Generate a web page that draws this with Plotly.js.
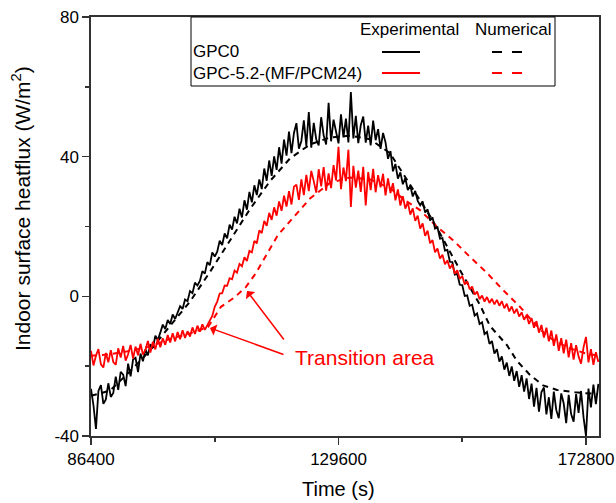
<!DOCTYPE html>
<html><head><meta charset="utf-8">
<script src="https://cdn.plot.ly/plotly-3.0.1.min.js"></script>
<style>body{margin:0;background:#fff}#chart{width:616px;height:503px}</style>
</head><body><div id="chart"></div>
<script>
// Experimental records: one sample every 432 s starting at 86400 s
const expStart = 86400;
const expStep = 432;
const gpc0Exp = [
-26.5,-31.2,-38.0,-27.1,-25.4,-30.8,-29.5,-24.9,-28.8,-27.7,
-23.0,-26.8,-21.6,-22.4,-25.7,-19.3,-22.9,-18.1,-17.6,-21.7,
-16.4,-18.6,-15.2,-16.9,-13.7,-14.8,-11.3,-12.5,-10.4,-8.1,
-9.4,-6.8,-7.9,-5.2,-6.5,-4.9,-2.8,-3.6,-0.9,-1.4,
1.5,0.9,3.9,3.1,4.4,7.2,6.5,9.8,8.9,12.6,
11.4,12.8,15.9,14.7,18.0,16.6,20.5,19.1,22.8,20.9,
25.1,22.6,27.5,24.8,29.9,26.9,31.8,29.0,33.5,30.7,
36.6,33.1,38.9,34.5,40.1,36.2,42.7,38.0,44.9,40.3,
47.2,41.0,46.8,49.6,42.3,44.5,50.4,43.1,52.8,42.6,
49.7,45.0,43.2,51.3,46.1,43.5,55.4,44.4,50.6,47.2,
43.8,52.1,45.5,50.9,44.1,58.5,45.2,51.7,43.9,49.0,
51.5,44.0,48.9,43.2,50.3,44.7,47.9,42.2,46.8,44.1,
39.4,41.6,35.8,37.9,33.7,35.5,32.1,33.9,30.4,31.7,
28.6,30.2,27.3,26.1,27.2,24.0,24.9,21.7,22.6,19.4,
19.8,16.5,16.7,13.1,13.3,9.9,9.8,6.2,6.4,3.3,
3.2,0.1,0.3,-2.7,-2.4,-5.5,-4.9,-7.9,-7.4,-10.8,
-10.2,-13.6,-12.8,-16.4,-15.1,-18.7,-17.2,-21.0,-19.0,-22.8,
-20.1,-24.2,-21.4,-25.9,-22.6,-27.3,-23.5,-29.4,-25.0,-31.6,
-26.2,-33.0,-27.4,-26.1,-33.8,-28.9,-35.1,-27.3,-32.6,-34.9,
-27.8,-30.7,-36.3,-28.2,-33.7,-35.9,-28.0,-33.4,-27.1,-34.6,
-40.0,-26.4,-31.8,-25.3,-30.9,-25.1
];
const pcmExp = [
-15.6,-19.8,-17.0,-15.1,-19.5,-20.4,-16.2,-18.9,-15.4,-18.8,
-19.6,-14.9,-17.5,-14.2,-18.4,-16.6,-13.9,-17.8,-14.4,-16.9,
-13.6,-16.7,-15.3,-12.8,-16.1,-13.0,-15.2,-12.1,-14.6,-12.0,
-13.9,-11.1,-13.2,-10.6,-12.9,-10.2,-12.3,-9.7,-11.9,-10.0,
-11.5,-8.9,-10.8,-8.4,-10.1,-8.0,-9.6,-8.1,-6.8,-5.6,
-3.0,-1.5,0.8,0.9,3.1,3.0,5.2,4.9,7.4,6.8,
9.3,8.6,11.2,10.1,13.0,12.6,15.9,15.2,18.9,18.1,
21.6,20.2,23.9,21.9,25.5,23.1,27.2,24.5,28.8,25.7,
30.1,26.3,31.4,32.0,27.6,33.5,29.0,34.8,30.1,35.9,
33.0,29.7,36.4,31.5,37.0,30.3,35.2,31.0,37.6,33.2,
42.8,30.7,36.9,33.0,42.0,25.6,37.4,31.1,36.0,29.9,
37.1,26.0,35.6,30.4,36.5,29.8,34.7,31.2,35.1,28.9,
33.8,29.6,32.4,27.5,30.6,26.0,28.7,25.1,27.0,23.4,
25.2,21.6,23.1,19.4,20.9,17.3,18.8,15.2,16.1,12.6,
13.7,10.8,11.9,9.2,10.3,8.0,9.1,6.5,7.5,5.0,
5.8,3.4,4.3,2.0,2.8,0.5,1.4,-0.8,0.2,-1.5,
-0.2,-1.9,-0.7,-2.3,-1.0,-2.7,-1.4,-3.4,-2.1,-4.3,
-2.9,-4.9,-3.6,-5.8,-4.6,-6.7,-5.4,-7.9,-6.2,-9.0,
-7.1,-10.4,-8.2,-11.8,-9.0,-12.9,-9.8,-14.2,-10.9,-15.6,
-12.0,-16.3,-12.4,-17.5,-13.4,-18.1,-14.0,-17.2,-19.3,-14.6,
-11.6,-18.9,-15.1,-19.6,-16.0,-18.8
];
// Numerical results
const gpc0NumTime = [86400,89716,93207,96698,100189,103680,107171,110662,114153,117644,121135,124626,128117,131608,135099,138590,142080,145572,147318,150809,154300,156045,159013,160758,163027,165297,167740,170882,174897];
const gpc0Num = [-28.5,-27.0,-21.5,-15.5,-8.5,-1.5,7.0,16.0,25.0,33.0,39.5,43.5,45.5,46.0,45.0,41.0,32.0,23.0,18.0,7.5,-2.5,-8.5,-14.0,-18.5,-22.5,-25.5,-26.8,-27.5,-28.0];
const pcmNumTime = [86400,89716,93207,96698,100189,103680,106822,109092,111535,113455,115201,116423,119041,121659,124626,128117,131608,135099,138590,141209,143827,146794,149587,152554,155522,158315,161282,163552,165995,169486,172628,174897];
const pcmNum = [-17.0,-16.6,-15.6,-14.4,-12.2,-10.6,-8.8,-3.0,-0.2,2.7,6.7,10.3,17.6,22.5,28.0,32.5,34.0,33.5,31.0,27.5,24.7,19.9,16.1,11.3,6.7,1.8,-3.0,-7.3,-11.4,-14.6,-16.3,-17.0];

const xTicks = [86400, 129600, 172800];
const xMinorTicks = [108000, 151200];
const yTicks = [-40, 0, 40, 80];
const yMinorTicks = [-20, 20, 60];
const seriesNames = ['GPC0', 'GPC-5.2-(MF/PCM24)'];
const columnNames = ['Experimental', 'Numerical'];
const noteText = 'Transition area';
const notePos = {x: 134227, y: -17.4};
const arrowHeads = [{x: 107171, y: -9.07, ax: 75, ay: 27}, {x: 113630, y: 1.53, ax: 38, ay: 50}];

const expTime = gpc0Exp.map((_, i) => expStart + i * expStep);
const FONT = 'Arial, "Liberation Sans", sans-serif';
const RED = '#ff0000';

const traces = [
  {x: gpc0NumTime, y: gpc0Num, mode: 'lines', line: {color: '#000', width: 2, dash: '6px,5px'}, name: seriesNames[0] + ' num'},
  {x: pcmNumTime, y: pcmNum, mode: 'lines', line: {color: RED, width: 2, dash: '6px,5px'}, name: seriesNames[1] + ' num'},
  {x: expTime, y: gpc0Exp, mode: 'lines', line: {color: '#000', width: 1.8}, name: seriesNames[0]},
  {x: expTime, y: pcmExp, mode: 'lines', line: {color: RED, width: 1.8}, name: seriesNames[1]}
];

// pixel helpers for legend layout (paper coordinates)
const L = 91, R = 599, T = 17, B = 436;
const px = v => (v - L) / (R - L);
const py = v => (B - v) / (B - T);

const shapes = [
  {type: 'rect', xref: 'paper', yref: 'paper', x0: px(191), x1: px(555), y0: py(86), y1: py(17), line: {color: '#000', width: 1}, fillcolor: 'rgba(0,0,0,0)'},
  {type: 'line', xref: 'paper', yref: 'paper', x0: px(382), x1: px(420), y0: py(52), y1: py(52), line: {color: '#000', width: 2}},
  {type: 'line', xref: 'paper', yref: 'paper', x0: px(382), x1: px(420), y0: py(73), y1: py(73), line: {color: RED, width: 2}},
  {type: 'line', xref: 'paper', yref: 'paper', x0: px(492), x1: px(522), y0: py(52), y1: py(52), line: {color: '#000', width: 2, dash: '10px,10px'}},
  {type: 'line', xref: 'paper', yref: 'paper', x0: px(492), x1: px(522), y0: py(73), y1: py(73), line: {color: RED, width: 2, dash: '10px,10px'}}
];

const annotations = [
  {xref: 'paper', yref: 'paper', x: px(409), y: py(30), text: columnNames[0], showarrow: false, xanchor: 'center', yanchor: 'middle', font: {family: FONT, size: 17, color: '#000'}},
  {xref: 'paper', yref: 'paper', x: px(513), y: py(30), text: columnNames[1], showarrow: false, xanchor: 'center', yanchor: 'middle', font: {family: FONT, size: 17, color: '#000'}},
  {xref: 'paper', yref: 'paper', x: px(191), y: py(52), text: seriesNames[0], showarrow: false, xanchor: 'left', yanchor: 'middle', font: {family: FONT, size: 17, color: '#000'}},
  {xref: 'paper', yref: 'paper', x: px(191), y: py(73), text: seriesNames[1], showarrow: false, xanchor: 'left', yanchor: 'middle', font: {family: FONT, size: 17, color: '#000'}},
  {xref: 'x', yref: 'y', x: notePos.x, y: notePos.y, text: noteText, showarrow: false, xanchor: 'center', yanchor: 'middle', font: {family: FONT, size: 21, color: RED}},
  {xref: 'paper', yref: 'paper', x: px(338), y: py(489), text: 'Time (s)', showarrow: false, xanchor: 'center', yanchor: 'middle', font: {family: FONT, size: 20, color: '#000'}},
  {xref: 'paper', yref: 'paper', x: px(21), y: py(209), text: 'Indoor surface heatflux (W/m<sup>2</sup>)', textangle: -90, showarrow: false, xanchor: 'center', yanchor: 'middle', font: {family: FONT, size: 21, color: '#000'}}
];
arrowHeads.forEach(a => annotations.push({
  xref: 'x', yref: 'y', x: a.x, y: a.y, ax: a.ax, ay: a.ay, text: '', showarrow: true,
  arrowhead: 1, arrowsize: 1.3, arrowwidth: 1.5, arrowcolor: RED, standoff: 0
}));

const axisCommon = {
  showgrid: false, zeroline: false, showline: true, linecolor: '#333', linewidth: 1.6,
  mirror: true, ticks: 'outside', ticklen: 7, tickwidth: 1.6, tickcolor: '#333',
  tickfont: {family: FONT, size: 17, color: '#000'}
};

const layout = {
  width: 616, height: 503,
  margin: {l: L, r: 616 - R, t: T, b: 503 - B},
  paper_bgcolor: '#fff', plot_bgcolor: '#fff',
  showlegend: false,
  xaxis: Object.assign({}, axisCommon, {
    range: [86400, 175070], tickmode: 'array', tickvals: xTicks, ticktext: xTicks.map(String),
    minor: {tickmode: 'array', tickvals: xMinorTicks, ticks: 'outside', ticklen: 4, tickwidth: 1.6, tickcolor: '#333'}
  }),
  yaxis: Object.assign({}, axisCommon, {
    range: [-40, 80], tickmode: 'array', tickvals: yTicks, ticktext: yTicks.map(String),
    minor: {tickmode: 'array', tickvals: yMinorTicks, ticks: 'outside', ticklen: 4, tickwidth: 1.6, tickcolor: '#333'}
  }),
  shapes: shapes,
  annotations: annotations
};

Plotly.newPlot('chart', traces, layout, {displayModeBar: false, staticPlot: true});
</script>
</body></html>
